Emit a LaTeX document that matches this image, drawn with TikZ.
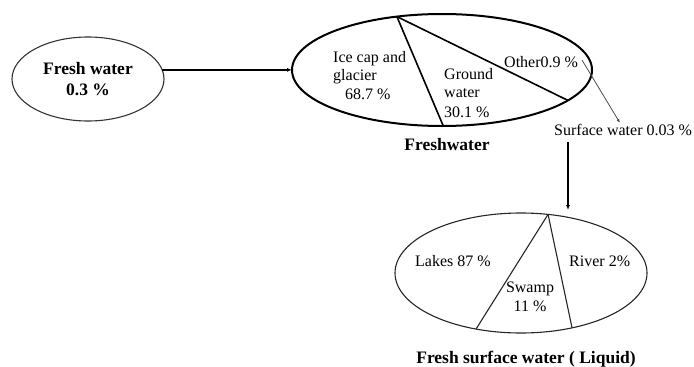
\documentclass[tikz,border=0pt]{standalone}
\usepackage{fontspec}
\setmainfont{Liberation Serif}
\usetikzlibrary{shapes.geometric,arrows.meta}
\tikzset{
  oval/.style={ellipse, inner sep=0pt, outer sep=0pt, draw},
  lbl/.style={inner sep=0pt, font=\fontsize{16}{18.5}\selectfont},
  blbl/.style={inner sep=0pt, font=\fontsize{17.5}{21}\selectfont\bfseries},
  slice/.style={line width=1.6pt, black},
  bslice/.style={line width=1.1pt, black!85},
  mainarrow/.style={line width=1.3pt, -{Latex[length=5pt,width=4pt]}},
  thinarrow/.style={line width=0.8pt, black!70, -{Latex[length=4pt,width=3pt]}}
}
\begin{document}
\begin{tikzpicture}[x=1pt,y=-1pt]
\useasboundingbox (0,0) rectangle (694,367);
% ellipses
\node[oval, line width=1.1pt, black!80, text=black, minimum width=152pt, minimum height=84pt, align=center, blbl] (fw) at (88,79) {Fresh water\\0.3 \%};
\node[oval, line width=2pt, minimum width=300pt, minimum height=112pt] (mid) at (442,70) {};
\node[oval, line width=1.1pt, black!85, minimum width=252pt, minimum height=120pt] (sfw) at (521,273) {};
% slice points
\coordinate (mtop) at ([shift={({150*cos(107.5)},{-56*sin(107.5)})}]mid.center);
\coordinate (mbot) at ([shift={({150*cos(-89.5)},{-56*sin(-89.5)})}]mid.center);
\coordinate (mright) at ([shift={({150*cos(-32.9)},{-56*sin(-32.9)})}]mid.center);
\coordinate (btop) at ([shift={({126*cos(77.6)},{-60*sin(77.6)})}]sfw.center);
\coordinate (bleft) at ([shift={({126*cos(-110.9)},{-60*sin(-110.9)})}]sfw.center);
\coordinate (bright) at ([shift={({126*cos(-66.1)},{-60*sin(-66.1)})}]sfw.center);
\draw[slice] (mtop) -- (mbot);
\draw[slice] (mtop) -- (mright);
\draw[bslice] (btop) -- (bleft);
\draw[bslice] (btop) -- (bright);
% texts in the freshwater ellipse
\node[lbl, anchor=base west] (ice) at (333,62) {Ice cap and};
\node[lbl, anchor=base west] (gla) at (333,80) {glacier};
\node[lbl, anchor=base west] (ice2) at (345,99) {68.7 \%};
\node[lbl, anchor=base west] (gr1) at (444,79) {Ground};
\node[lbl, anchor=base west] (gr2) at (444,97) {water};
\node[lbl, anchor=base west] (gr3) at (444,117) {30.1 \%};
\node[lbl, anchor=base west] (oth) at (504,67) {Other0.9 \%};
\node[blbl, anchor=base] (fwl) at (447,150) {Freshwater};
% surface water
\node[lbl, anchor=base west] (sw) at (554,135) {Surface water 0.03 \%};
% bottom ellipse texts
\node[lbl, anchor=base west] (lk) at (415,266) {Lakes 87 \%};
\node[lbl, anchor=base west] (rv) at (569,266) {River 2\%};
\node[lbl, anchor=base] (sw1) at (530,292) {Swamp};
\node[lbl, anchor=base] (sw2) at (530,311) {11 \%};
\node[blbl, anchor=base] (sfl) at (526,363) {Fresh surface water ( Liquid)};
% connectors
\draw[mainarrow] (fw.7) -- (fw.7 -| mid.west);
\coordinate (othend) at (582,60);
\coordinate (swtip) at (620,123);
\draw[thinarrow] (othend) -- (swtip);
\coordinate (swdown) at (568,142);
\coordinate (sfwin) at (568,210);
\draw[mainarrow, line width=1.1pt] (swdown) -- (sfwin);
\end{tikzpicture}
\end{document}
